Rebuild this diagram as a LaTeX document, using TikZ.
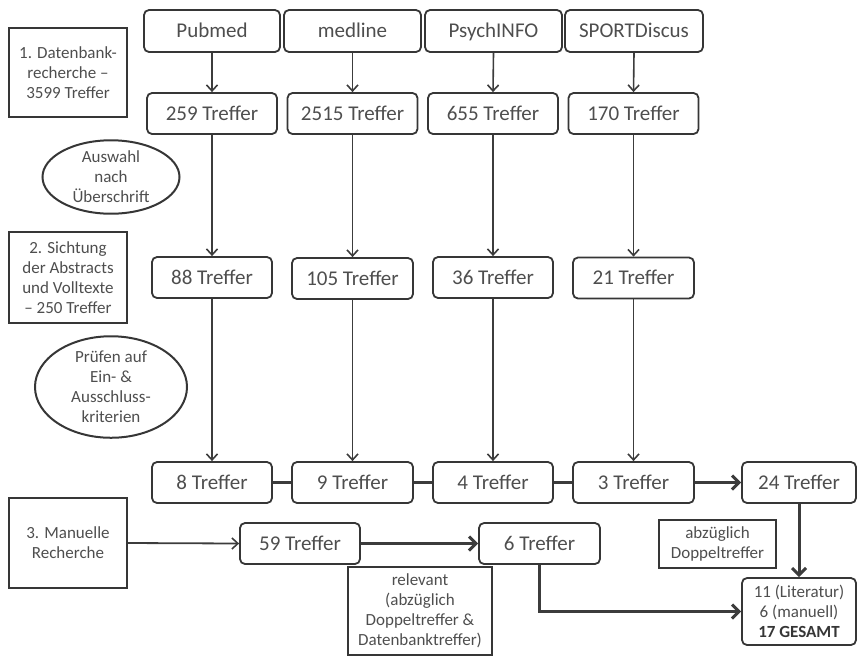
\documentclass[tikz,border=0pt]{standalone}
\usepackage{fontspec}
\setmainfont{Carlito}
\usetikzlibrary{arrows.meta,shapes.geometric}
\definecolor{boxc}{HTML}{363636}
\definecolor{txt}{HTML}{4E4E4E}
\definecolor{linec}{HTML}{3C3C3C}
\tikzset{
  rbox/.style={draw=boxc, line width=1.8pt, rounded corners=5pt, text=txt,
    font=\fontsize{21}{24}\selectfont, inner sep=0pt, minimum height=41pt,
    text height=16pt, text depth=3pt},
  lbox/.style={draw=boxc, line width=2pt, text=txt, align=center,
    font=\fontsize{17}{20}\selectfont, inner sep=0pt},
  ell/.style={draw=boxc, ellipse, line width=2pt, text=txt, align=center,
    font=\fontsize{17}{20}\selectfont, inner sep=0pt},
  thin arrow/.style={draw=linec, line width=1.6pt, -{Straight Barb[length=6pt,width=11pt,line width=1.6pt]}},
  thick line/.style={draw=linec, line width=3pt},
  thick arrow/.style={draw=linec, line width=3pt, -{Straight Barb[length=7pt,width=14pt,line width=3pt]}},
}
\begin{document}
\begin{tikzpicture}[x=1pt,y=-1pt]
\useasboundingbox (0,0) rectangle (858,657);
% row 1
\node[rbox, minimum width=136pt, minimum height=42pt] (pub) at (212,31) {Pubmed};
\node[rbox, minimum width=137pt, minimum height=42pt] (med) at (352.5,31) {medline};
\node[rbox, minimum width=137pt, minimum height=42pt] (psy) at (493.5,31) {PsychINFO};
\node[rbox, minimum width=138pt, minimum height=42pt] (spo) at (634,31) {SPORTDiscus};
% row 2
\node[rbox, minimum width=130pt] (r2a) at (212,113.5) {259 Treffer};
\node[rbox, minimum width=130pt] (r2b) at (352.5,113.5) {2515 Treffer};
\node[rbox, minimum width=130pt] (r2c) at (493,113.5) {655 Treffer};
\node[rbox, minimum width=130pt] (r2d) at (633.5,113.5) {170 Treffer};
% row 3
\node[rbox, minimum width=120pt] (r3a) at (212,277.5) {88 Treffer};
\node[rbox, minimum width=121pt] (r3b) at (352.5,278.5) {105 Treffer};
\node[rbox, minimum width=120pt] (r3c) at (493,277.5) {36 Treffer};
\node[rbox, minimum width=121pt] (r3d) at (633.5,278) {21 Treffer};
% row 4
\node[rbox, minimum width=120pt] (r4a) at (212,482.5) {8 Treffer};
\node[rbox, minimum width=121pt] (r4b) at (352.5,482.5) {9 Treffer};
\node[rbox, minimum width=120pt] (r4c) at (493,482.5) {4 Treffer};
\node[rbox, minimum width=121pt] (r4d) at (633.5,482.5) {3 Treffer};
\node[rbox, minimum width=114pt] (r4e) at (799,482.5) {24 Treffer};
% left boxes
\node[lbox, minimum width=118pt, minimum height=89pt] (b1) at (68,72.5) {1. Datenbank-\\recherche –\\3599 Treffer};
\node[lbox, minimum width=118pt, minimum height=91pt] (b2) at (68,277.5) {2. Sichtung\\der Abstracts\\und Volltexte\\– 250 Treffer};
\node[lbox, minimum width=118pt, minimum height=90pt] (b3) at (68,543) {3. Manuelle\\Recherche};
\node[ell, minimum width=137pt, minimum height=73pt] (e1) at (111,177) {Auswahl\\nach\\Überschrift};
\node[ell, minimum width=152pt, minimum height=95pt] (e2) at (111,387) {Prüfen auf\\Ein- \&\\Ausschluss-\\kriterien};
% manual part
\node[rbox, minimum width=120pt] (m59) at (300,543.5) {59 Treffer};
\node[rbox, minimum width=121pt] (m6) at (539.5,543.5) {6 Treffer};
\node[lbox, minimum width=144pt, minimum height=88pt] (rel) at (420,611) {relevant\\(abzüglich\\Doppeltreffer \&\\Datenbanktreffer)};
\node[lbox, minimum width=117pt, minimum height=48pt] (abz) at (717.5,544) {abzüglich\\Doppeltreffer};
\node[rbox, minimum width=114pt, minimum height=67pt, align=center, text height=, text depth=,
  font=\fontsize{17}{20}\selectfont] (fin) at (799,611.5) {11 (Literatur)\\6 (manuell)\\\textcolor{boxc}{\textbf{17 GESAMT}}};
% arrows
\foreach \a/\b in {pub/r2a, med/r2b, psy/r2c, spo/r2d, r2a/r3a, r2b/r3b, r2c/r3c, r2d/r3d, r3a/r4a, r3b/r4b, r3c/r4c, r3d/r4d}
  \draw[thin arrow] (\a.south) -- (\b.north);
\draw[thick line] (r4a.east) -- (r4b.west);
\draw[thick line] (r4b.east) -- (r4c.west);
\draw[thick line] (r4c.east) -- (r4d.west);
\draw[thick arrow] (r4d.east) -- (r4e.west);
\draw[thin arrow, line width=1.8pt] (b3.east) -- (m59.west);
\draw[thick arrow] (m59.east) -- (m6.west);
\draw[thick arrow] (r4e.south) -- (fin.north);
\draw[thick arrow] (m6.south) |- (fin.west);
\end{tikzpicture}
\end{document}
